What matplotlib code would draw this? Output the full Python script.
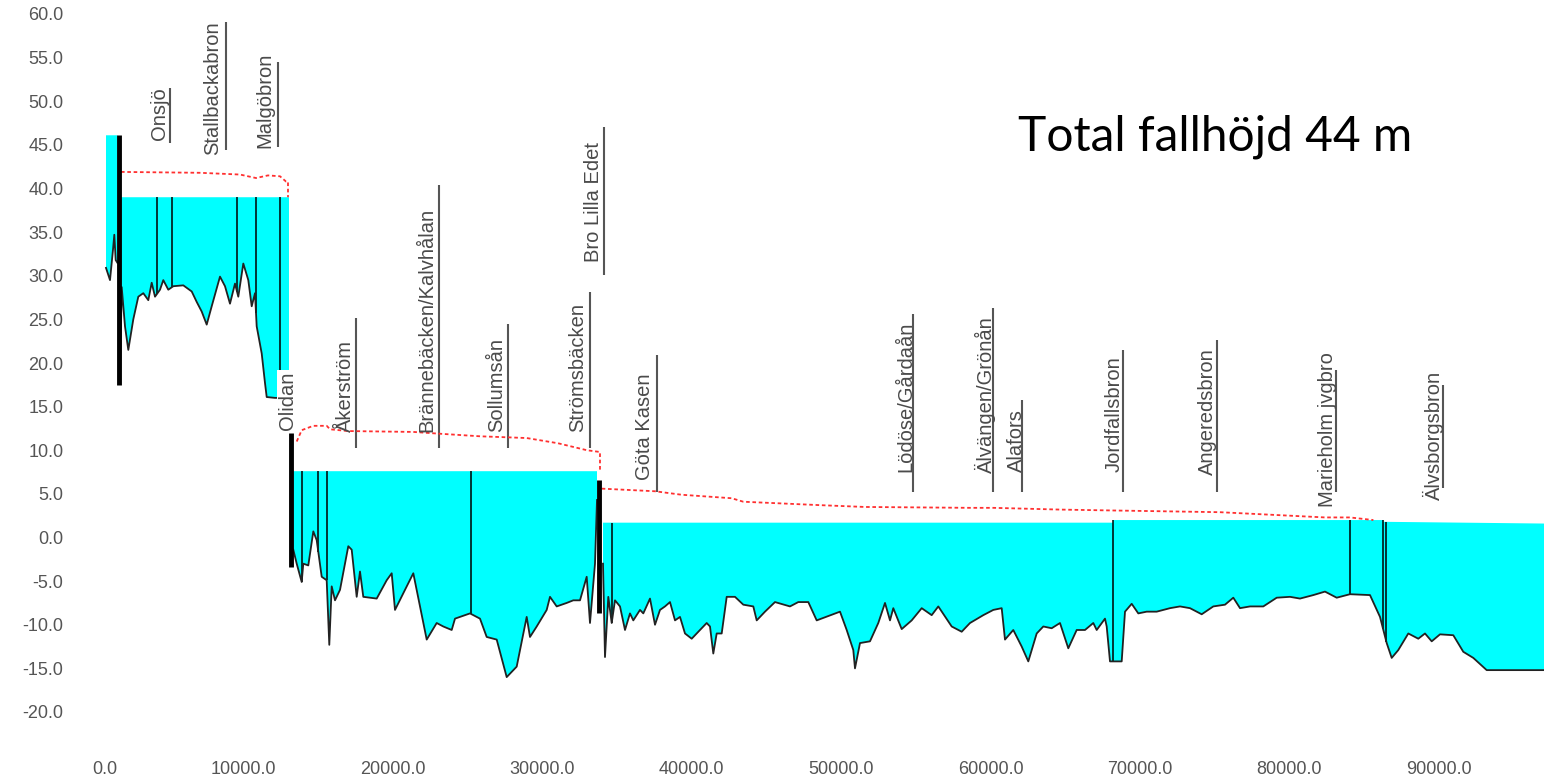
import numpy as np
import matplotlib.pyplot as plt
import matplotlib.transforms as mtransforms

# Göta älv längdprofil - distance from Vänern (m), height (m)

# reach above Vargön
r1_x = [803, 1071, 1272, 1359, 1452, 1560]
r1_bed = [30.9, 29.5, 33.0, 34.7, 31.8, 31.5]
r1_water = 46.1

# Vargön - Trollhättan (Olidan)
r2_x = [1740, 1854, 2075, 2296, 2630, 2965, 3300, 3634, 3862, 4083, 4417, 4638,
        4973, 5307, 5977, 6539, 6874, 7208, 7543, 7878, 8433, 8768, 9102, 9437,
        9658, 9993, 10327, 10555, 10776, 10889, 11224, 11445, 11559, 12114, 13051]
r2_bed = [18.0, 28.7, 24.2, 21.5, 25.0, 27.6, 28.0, 27.2, 29.2, 27.6, 28.4, 29.5,
          28.4, 28.8, 28.9, 28.2, 27.0, 25.9, 24.4, 26.5, 29.9, 28.8, 26.8, 29.1,
          27.6, 31.4, 29.5, 26.5, 28.0, 24.2, 21.1, 17.7, 16.1, 16.0, 16.0]
r2_water = 39.0

# Olidan - Lilla Edet
r3_x = [13339, 13567, 13901, 14008, 14343, 14678, 14905, 15240, 15574, 15748,
        15909, 16130, 16465, 17020, 17248, 17582, 17803, 18024, 18921, 19590,
        19925, 20146, 20815, 21371, 22268, 22937, 23379, 23941, 24162, 25166,
        25835, 26283, 26953, 27622, 28291, 28960, 29181, 29630, 30299, 30520,
        30968, 31637, 32079, 32528, 32976, 33197, 33532, 33666]
r3_bed = [-1.4, -3.0, -5.1, -3.0, -3.2, 0.7, -0.3, -4.5, -4.9, -12.3,
          -5.6, -7.2, -6.0, -1.0, -1.4, -6.8, -3.9, -6.8, -7.0, -4.9,
          -4.1, -8.3, -6.0, -4.1, -11.7, -9.8, -10.2, -10.6, -9.3, -8.7,
          -9.3, -11.4, -11.7, -16.0, -14.8, -9.1, -11.4, -10.2, -8.3, -6.8,
          -7.9, -7.5, -7.2, -7.2, -4.5, -9.8, -3.0, 4.3]
r3_water = 7.6

# Lilla Edet - Göteborg
r4_x = [34067, 34201, 34422, 34649, 34870, 35205, 35540, 35874, 36095, 36544,
        36765, 37213, 37548, 37882, 38217, 38552, 38887, 39221, 39556, 40004,
        40560, 41008, 41229, 41450, 41677, 42012, 42347, 42902, 43458, 44127,
        44355, 44910, 45579, 46583, 47139, 47808, 48370, 49930, 50378, 50820,
        50933, 51268, 51937, 52493, 52942, 53276, 53497, 54059, 54728, 55398,
        56067, 56509, 57406, 58075, 58631, 59521, 60190, 60752, 60973, 61528,
        62091, 62533, 63095, 63537, 64099, 64654, 65210, 65772, 66328, 66883,
        67111, 67666, 67780, 68001, 68784, 69005, 69454, 69895, 70458, 71127,
        72017, 72686, 73355, 74139, 74915, 75699, 76254, 76703, 77372, 78262,
        79159, 80049, 80718, 81608, 82391, 83174, 84064, 85403, 86072, 86521,
        86855, 87297, 87967, 88636, 89084, 89533, 90088, 90978, 91647, 92317,
        93213, 97049]
r4_bed = [-3.0, -13.7, -6.8, -9.8, -7.2, -7.9, -10.6, -8.7, -9.5, -8.3,
          -8.7, -7.0, -10.0, -8.3, -7.9, -7.4, -9.5, -9.1, -11.0, -11.6,
          -10.6, -9.8, -10.2, -13.3, -11.0, -11.0, -6.8, -6.8, -7.7, -7.9,
          -9.5, -8.5, -7.4, -7.9, -7.4, -7.4, -9.5, -8.5, -10.6, -12.9,
          -15.0, -12.1, -11.9, -9.8, -7.5, -9.5, -8.1, -10.5, -9.5, -8.1,
          -8.9, -7.9, -10.2, -10.8, -9.8, -8.9, -8.3, -8.1, -11.7, -10.6,
          -12.5, -14.2, -11.0, -10.2, -10.4, -9.8, -12.7, -10.6, -10.6, -9.8,
          -10.6, -9.3, -10.2, -14.2, -14.2, -8.5, -7.6, -8.7, -8.5, -8.5,
          -8.1, -7.9, -8.1, -8.8, -7.9, -7.7, -6.9, -8.1, -7.9, -7.9,
          -6.9, -6.8, -7.0, -6.6, -6.2, -6.9, -6.5, -6.6, -9.1, -12.1,
          -13.8, -12.9, -11.0, -11.6, -11.0, -11.9, -11.1, -11.2, -13.1, -13.8,
          -15.2, -15.2]
r4_water_x = [34067, 68202, 68202, 86300, 86300, 97049]
r4_water = [1.7, 1.7, 2.0, 2.0, 1.8, 1.6]

# high water level (red dashed)
hw2_x = [1807, 7095, 9772, 10843, 11646, 12449, 12850, 12984, 12984]
hw2_y = [41.9, 41.8, 41.6, 41.2, 41.5, 41.4, 40.8, 40.8, 39.0]
hw3_x = [13567, 13901, 14678, 15574, 15800, 17000, 21371, 23091, 25835,
         28960, 31060, 33000, 33866, 33866]
hw3_y = [11.0, 12.3, 12.8, 12.8, 12.4, 12.2, 12.1, 11.9, 11.6,
         11.4, 10.8, 10.0, 9.8, 7.6]
hw4_x = [33980, 37548, 39330, 42680, 43458, 48700, 51600, 58630, 60190,
         64650, 68100, 75360, 82390, 84064, 85630]
hw4_y = [5.6, 5.3, 4.9, 4.5, 4.1, 3.7, 3.5, 3.4, 3.4,
         3.2, 3.1, 2.9, 2.3, 2.3, 2.0]

# dams: position, top, bottom
dam_x = [1640, 13200, 33790]
dam_top = [46.1, 12.0, 6.6]
dam_bot = [17.5, -3.4, -8.7]

# bridges / structures drawn as thin lines down to the bed
br2_x = [4217, 5220, 9571, 10843, 12449]
br3_x = [13901, 15012, 15574, 25233]
br4_x = [34649, 68202, 84064, 86273, 86505]

# place names: text x, text bottom, line x, line top, line bottom
places = ['Onsjö', 'Stallbackabron', 'Malgöbron', 'Åkerström',
          'Brännebäcken/Kalvhålan', 'Sollumsån', 'Strömsbäcken', 'Bro Lilla Edet',
          'Göta Kasen', 'Lödöse/Gårdaån', 'Älvängen/Grönån', 'Alafors',
          'Jordfallsbron', 'Angeredsbron', 'Marieholm jvgbro', 'Älvsborgsbron']
place_tx = [4417, 7965, 11445, 16800, 22288, 26973, 32394, 33465,
            36878, 54347, 59635, 61709, 68269, 74493, 82592, 89620]
place_ty = [45.6, 43.8, 44.6, 12.1, 12.1, 12.1, 12.1, 31.6,
            6.6, 7.5, 7.4, 7.5, 7.5, 7.2, 3.5, 4.3]
place_lx = [5087, 8835, 12315, 17536, 23091, 27709, 33197, 34134,
            37682, 54815, 60170, 62111, 68871, 75162, 83127, 90289]
place_l0 = [51.5, 59.1, 54.5, 25.2, 40.4, 24.5, 28.1, 47.0,
            20.9, 25.6, 26.3, 15.8, 21.5, 22.6, 19.2, 17.5]
place_l1 = [45.2, 44.4, 44.8, 10.3, 10.3, 10.3, 10.3, 30.1,
            5.2, 5.2, 5.2, 5.2, 5.2, 5.2, 5.2, 5.7]

cyan = '#00ffff'
bedc = '#222222'

fig = plt.figure(figsize=(15.44, 7.78), dpi=100)
ax = fig.add_axes([94 / 1544, 66 / 778, 1450 / 1544, 698 / 778])

# water bodies
reaches = [(r1_x, r1_bed, [r1_x[0], r1_x[-1]], [r1_water, r1_water]),
           (r2_x, r2_bed, [r2_x[0], r2_x[-1]], [r2_water, r2_water]),
           (r3_x, r3_bed, [r3_x[0], r3_x[-1]], [r3_water, r3_water]),
           (r4_x, r4_bed, r4_water_x, r4_water)]
for bx, by, wx, wy in reaches:
    px = np.r_[bx, wx[::-1]]
    py = np.r_[by, wy[::-1]]
    ax.fill(px, py, color=cyan, lw=0, zorder=1)
    ax.plot(bx, by, color=bedc, lw=1.3, zorder=3)

# bridges
for bx_list, bx, by, wlev in [(br2_x, r2_x, r2_bed, r2_water),
                              (br3_x, r3_x, r3_bed, r3_water)]:
    ax.vlines(bx_list, np.interp(bx_list, bx, by), wlev, color='black', lw=1.1, zorder=2)
top4 = np.interp(br4_x, r4_water_x[2:], r4_water[2:])
top4[0] = r4_water[0]
ax.vlines(br4_x, np.interp(br4_x, r4_x, r4_bed), top4, color='black', lw=1.1, zorder=2)

# dams
ax.vlines(dam_x, dam_bot, dam_top, color='black', lw=3.5, zorder=4)

# high water
for hx, hy in [(hw2_x, hw2_y), (hw3_x, hw3_y), (hw4_x, hw4_y)]:
    ax.plot(hx, hy, color='#ff3030', lw=1.3, ls=(0, (2, 1.5)), zorder=3)

# place names
for name, tx, ty, lx, l0, l1 in zip(places, place_tx, place_ty, place_lx, place_l0, place_l1):
    ax.vlines(lx, l1, l0, color='#555555', lw=1.5, zorder=2)
    ax.text(tx, ty, name, rotation=90, ha='center', va='bottom', fontsize=14.5,
            color='#4a4a4a', family='Liberation Sans', zorder=5)
ax.text(12984, 12.3, 'Olidan', rotation=90, ha='center', va='bottom', fontsize=14.5,
        color='#4a4a4a', family='Liberation Sans', zorder=5,
        bbox=dict(facecolor='white', edgecolor='none', pad=1))

ax.text(61843, 44.4, 'Total fallhöjd 44 m', ha='left', va='baseline',
        fontsize=34.5, family='Lato', color='black')

ax.set_xlim(0, 97049)
ax.set_ylim(-20, 60)
ax.set_yticks(np.arange(-20, 61, 5))
ax.set_xticks(np.arange(0, 90001, 10000))
ax.set_yticklabels([f'{v:.1f}' for v in np.arange(-20, 61, 5)])
ax.set_xticklabels([f'{v:.1f}' for v in np.arange(0, 90001, 10000)])
ax.tick_params(axis='both', length=0, labelsize=13, labelcolor='#555555')
ax.tick_params(axis='y', pad=22)
ax.tick_params(axis='x', pad=35)
for lab in ax.get_xticklabels() + ax.get_yticklabels():
    lab.set_family('Liberation Sans')
for s in ax.spines.values():
    s.set_visible(False)

# the first x label sits a little right of its tick in the original
first = ax.xaxis.get_major_ticks()[0].label1
first.set_transform(first.get_transform() +
                    mtransforms.ScaledTranslation(0.11, 0, fig.dpi_scale_trans))

fig.savefig('out.png', dpi=100)
